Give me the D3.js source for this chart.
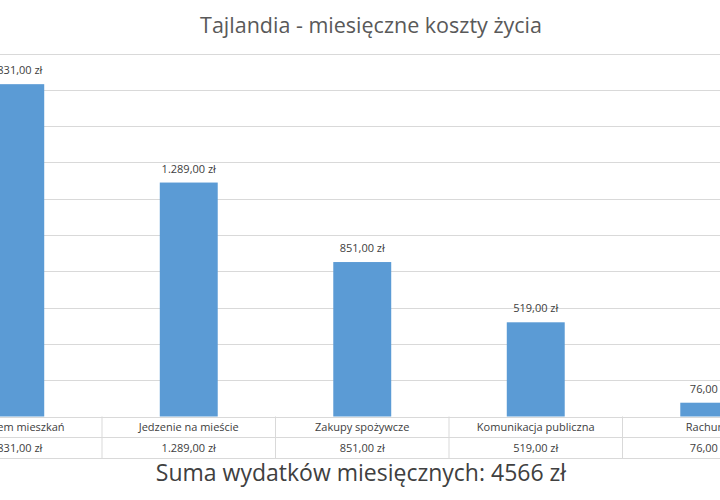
<!DOCTYPE html>
<html lang="pl">
<head>
<meta charset="UTF-8">
<script src="https://cdn.jsdelivr.net/npm/d3@7"></script>
<style>body{margin:0;background:#fff}text{font-family:"Open Sans",sans-serif}</style>
</head>
<body>
<svg width="720" height="500"></svg>
<script>
var categories = ['Wynajem mieszkań','Jedzenie na mieście','Zakupy spożywcze','Komunikacja publiczna','Rachunki'];
var values = [1831, 1289, 851, 519, 76];
var yTicks = [0,200,400,600,800,1000,1200,1400,1600,1800,2000];

var svg = d3.select('svg');
var fmt = function(v){
    var s = v.toFixed(2).replace('.', ',');
    return s.replace(/^(\d)(\d{3})/, '$1.$2') + ' zł';
};

var x = d3.scaleBand().domain(categories).range([-71.5, 796]).paddingInner(0.666).paddingOuter(0.333);
var step = x.step();
var y = d3.scaleLinear().domain([0, 2000]).range([416.5, 53.5]);

svg.append('text').attr('x', 371).attr('y', 33).attr('text-anchor', 'middle')
    .attr('font-size', 21.5).attr('fill', '#595959').text('Tajlandia - miesięczne koszty życia');

svg.selectAll('.grid').data(yTicks).enter().append('line')
    .attr('x1', 0).attr('x2', 720)
    .attr('y1', function(d){ return Math.round(y(d)) + 0.5; })
    .attr('y2', function(d){ return Math.round(y(d)) + 0.5; })
    .attr('stroke', '#d9d9d9');

svg.selectAll('.bar').data(values).enter().append('rect')
    .attr('x', function(d,i){ return x(categories[i]); })
    .attr('width', x.bandwidth())
    .attr('y', function(d){ return y(d); })
    .attr('height', function(d){ return y(0) - y(d); })
    .attr('fill', '#5b9bd5');

svg.selectAll('.lbl').data(values).enter().append('text')
    .attr('x', function(d,i){ return x(categories[i]) + x.bandwidth()/2; })
    .attr('y', function(d){ return y(d) - 10; })
    .attr('text-anchor', 'middle').attr('font-size', 11).attr('fill', '#404040')
    .text(fmt);

// data table
var t0 = 416.5, t1 = 437.5, t2 = 458.5;
[t1, t2].forEach(function(ty){
    svg.append('line').attr('x1', 0).attr('x2', 720).attr('y1', ty).attr('y2', ty).attr('stroke', '#d9d9d9');
});
categories.forEach(function(c, i){
    var left = x(c) - (step - x.bandwidth())/2;
    if (i > 0) svg.append('line').attr('x1', left).attr('x2', left).attr('y1', t0).attr('y2', t2).attr('stroke', '#d9d9d9');
    var cx = x(c) + x.bandwidth()/2;
    svg.append('text').attr('x', cx).attr('y', 431).attr('text-anchor', 'middle')
        .attr('font-size', 11).attr('fill', '#404040').text(c);
    svg.append('text').attr('x', cx).attr('y', 452).attr('text-anchor', 'middle')
        .attr('font-size', 11).attr('fill', '#404040').text(fmt(values[i]));
});

svg.append('text').attr('x', 361).attr('y', 481).attr('text-anchor', 'middle')
    .attr('font-size', 23).attr('fill', '#404040')
    .text('Suma wydatków miesięcznych: ' + d3.sum(values) + ' zł');
</script>
</body>
</html>
